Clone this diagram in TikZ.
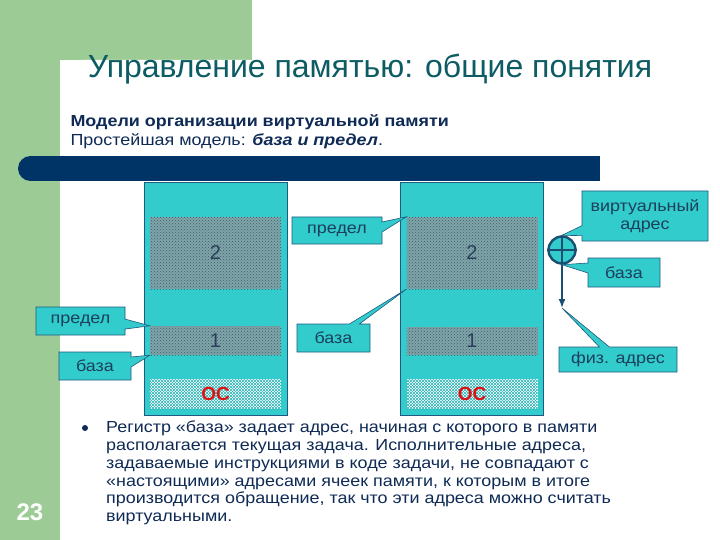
\documentclass[tikz,border=0pt]{standalone}
\usepackage{fontspec}
\setmainfont{Liberation Sans}
\newfontfamily\widefont[FakeStretch=1.12]{Liberation Sans}
\usetikzlibrary{shapes.callouts,patterns,arrows.meta}

\begin{document}
\begin{tikzpicture}[x=1pt,y=-1pt,
  callbox/.style={rectangle callout, fill=colCyan, draw=colEdge, line width=0.6pt,
    text=colLabel, font=\widefont\fontsize{16}{18}\selectfont, inner sep=0pt, align=center,
    callout pointer width=10pt},
  memcol/.style={draw=colEdge, line width=0.8pt, fill=colCyan,
    minimum width=143pt, minimum height=233pt},
  taskband/.style={preaction={fill=colTask}, pattern=crosshatch dots, pattern color=colDots,
    minimum width=131pt, text=colNum, font=\fontsize{20}{20}\selectfont, inner sep=0pt},
  osband/.style={preaction={fill=white}, pattern=north east lines, pattern color=colHatch,
    postaction={pattern=north west lines, pattern color=colHatch},
    minimum width=131pt, minimum height=30pt, text=colRed,
    font=\fontsize{19}{19}\selectfont\bfseries, inner sep=0pt}]

% Colori
\definecolor{colGreen}{HTML}{9DCB95}
\definecolor{colCyan}{HTML}{33CCCC}
\definecolor{colEdge}{HTML}{1F5A80}
\definecolor{colNavy}{HTML}{003366}
\definecolor{colTitle}{HTML}{0D5C63}
\definecolor{colText}{HTML}{0F2B55}
\definecolor{colLabel}{HTML}{1B3F5C}
\definecolor{colTask}{HTML}{7FA5AA}
\definecolor{colDots}{HTML}{3D5F6A}
\definecolor{colNum}{HTML}{2B3F5A}
\definecolor{colHatch}{HTML}{2FB5B8}
\definecolor{colRed}{HTML}{DD1111}
\definecolor{colRing}{HTML}{1A4F72}

\useasboundingbox (0,0) rectangle (720,540);

% Фон
\fill[colGreen] (0,0) rectangle (252,60);
\fill[colGreen] (0,0) rectangle (60,540);
\fill[white, rounded corners=22pt] (60,60) rectangle (760,600);

% Заголовок
\node[font=\fontsize{32}{38}\selectfont, text=colTitle] (title) at (370,69)
  {Управление памятью: общие понятия};
\node[anchor=base west, font=\widefont\fontsize{16}{18}\selectfont\bfseries, text=colText]
  (models) at (67,127) {Модели организации виртуальной памяти};
\node[anchor=base west, font=\widefont\fontsize{16}{18}\selectfont, text=colText]
  (simple) at (67,146) {Простейшая модель: \textbf{\itshape база и предел}.};

% Полоса
\fill[colNavy] (30.5,156) rectangle (600,181);
\fill[colNavy] (30.5,168.5) circle (12.5pt);

% Память слева
\node[memcol] (memL) at (215.5,298.5) {};
\node[taskband, minimum height=72pt] (taskL2) at (215.5,253) {2};
\node[taskband, minimum height=29pt] (taskL1) at (215.5,340.5) {1};
\node[osband] (osL) at (215.5,394) {ОС};

% Память справа
\node[memcol] (memR) at (472,298.5) {};
\node[taskband, minimum height=72pt] (taskR2) at (472,253) {2};
\node[taskband, minimum height=28pt] (taskR1) at (472,341) {1};
\node[osband] (osR) at (472,394) {ОС};

% Сумматор
\node[circle, draw=colRing, line width=2.4pt, fill=colCyan, minimum size=27pt,
  inner sep=0pt] (adder) at (562,250) {};
\draw[colRing, line width=1.6pt] (adder.north) -- (adder.south);
\draw[colRing, line width=1.6pt] (adder.west) -- (adder.east);
\coordinate (phys) at (562,308);
\draw[colRing, line width=1.6pt, -{Latex[length=9pt,width=7pt]}] (adder.south) -- (phys);

% Выноски
\node[callbox, minimum width=89pt, minimum height=28pt,
  callout absolute pointer={(taskL1.north west)}] (limL) at (80.5,321) {предел};
\node[callbox, minimum width=72pt, minimum height=28pt,
  callout absolute pointer={(taskL1.south west)}] (baseL) at (95,366) {база};
\node[callbox, minimum width=90pt, minimum height=27pt,
  callout absolute pointer={(taskR2.north west)}] (limR) at (337,230.5) {предел};
\node[callbox, minimum width=73pt, minimum height=28pt,
  callout absolute pointer={(taskR2.south west)}] (baseR) at (333.5,338) {база};
\node[callbox, minimum width=126pt, minimum height=50pt,
  callout absolute pointer={(adder.north)}] (virt) at (645,216) {виртуальный\\адрес};
\node[callbox, minimum width=72pt, minimum height=29pt,
  callout absolute pointer={(adder.south)}] (baseA) at (624,272.5) {база};
\node[callbox, minimum width=118pt, minimum height=25pt,
  callout absolute pointer={(phys)}] (physbox) at (618,359.5) {физ. адрес};

% Текст
\node[circle, fill=colText, minimum size=6pt, inner sep=0pt] (dot) at (85,428) {};
\node[anchor=north west, align=left, text=colText, inner sep=0pt,
  font=\widefont\fontsize{16}{17.7}\selectfont] (note) at (106,421)
  {Регистр «база» задает адрес, начиная с которого в памяти\\
   располагается текущая задача. Исполнительные адреса,\\
   задаваемые инструкциями в коде задачи, не совпадают с\\
   «настоящими» адресами ячеек памяти, к которым в итоге\\
   производится обращение, так что эти адреса можно считать\\
   виртуальными.};

% Номер слайда
\node[text=white, font=\fontsize{24}{24}\selectfont\bfseries] (page) at (30,512) {23};

\end{tikzpicture}
\end{document}
